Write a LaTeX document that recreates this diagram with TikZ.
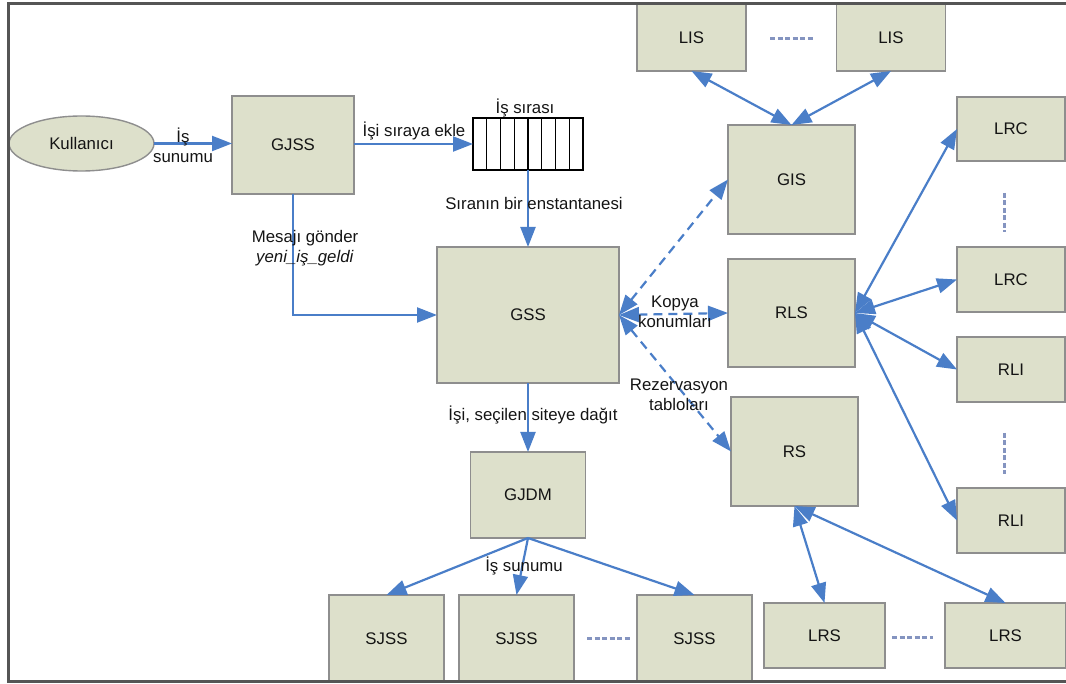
\documentclass[tikz,border=0pt]{standalone}
\usepackage{fontspec}
\setmainfont{Liberation Sans}
\usetikzlibrary{arrows.meta,shapes.geometric}
\definecolor{boxfill}{HTML}{DDE0CB}
\definecolor{boxline}{HTML}{8E8E8E}
\definecolor{linkblue}{HTML}{4A7EC8}
\definecolor{dotblue}{HTML}{8494C0}
\definecolor{framegray}{HTML}{555555}
\definecolor{ink}{HTML}{141414}
\tikzset{
  every node/.style={font=\fontsize{16.8}{20}\selectfont, text=ink},
  box/.style={draw=boxline, fill=boxfill, line width=1.4pt, inner sep=0pt, outer sep=0pt},
  tip/.tip={Triangle[length=20pt,width=15pt]},
  link/.style={draw=linkblue, line width=2.2pt, -tip},
  twoway/.style={draw=linkblue, line width=2.2pt, tip-tip},
  dlink/.style={twoway, dash pattern=on 9pt off 6pt},
  gap/.style={draw=dotblue, line width=3pt, dash pattern=on 5pt off 2.5pt},
  lbl/.style={inner sep=0pt, align=center},
}
\begin{document}
\begin{tikzpicture}[x=1pt,y=-1pt]
\useasboundingbox (0,0) rectangle (1066,684);

% left part: user, submission service, queue
\node[box, ellipse, minimum width=145pt, minimum height=55pt] (user) at (81.5,143.5) {Kullanıcı};
\node[box, minimum width=122pt, minimum height=98pt] (gjss) at (293,145) {GJSS};
\node[draw=black, fill=white, line width=1.4pt, inner sep=0pt, outer sep=0pt,
      minimum width=110pt, minimum height=52pt] (queue) at (528,144) {};
\foreach \i in {1,...,7}
  \draw[black, line width=1.4pt] ([xshift=\i*13.75pt]queue.north west) -- ([xshift=\i*13.75pt]queue.south west);
\node[lbl] (qlabel) at (525,108) {İş sırası};

% central scheduler and dispatcher
\node[box, minimum width=182pt, minimum height=136pt] (gss) at (528,315) {GSS};
\node[box, minimum width=115pt, minimum height=86pt] (gjdm) at (528,495) {GJDM};

% local submission services
\node[box, minimum width=115pt, minimum height=87pt] (sjss1) at (386.5,638.5) {SJSS};
\node[box, minimum width=115pt, minimum height=87pt] (sjss2) at (516.5,638.5) {SJSS};
\node[box, minimum width=115pt, minimum height=87pt] (sjss3) at (694.5,638.5) {SJSS};

% information, replica and reservation services
\node[box, minimum width=109pt, minimum height=67pt] (lis1) at (691.5,37.5) {LIS};
\node[box, minimum width=109pt, minimum height=67pt] (lis2) at (891,37.5) {LIS};
\node[box, minimum width=127pt, minimum height=109pt] (gis) at (791.5,179.5) {GIS};
\node[box, minimum width=127pt, minimum height=108pt] (rls) at (791.5,313) {RLS};
\node[box, minimum width=127pt, minimum height=109pt] (rs) at (794.5,451.5) {RS};

\node[box, minimum width=108pt, minimum height=64pt] (lrc1) at (1011,129) {LRC};
\node[box, minimum width=108pt, minimum height=65pt] (lrc2) at (1011,279.5) {LRC};
\node[box, minimum width=108pt, minimum height=65pt] (rli1) at (1011,369.5) {RLI};
\node[box, minimum width=108pt, minimum height=65pt] (rli2) at (1011,520.5) {RLI};

\node[box, minimum width=121pt, minimum height=65pt] (lrs1) at (824.5,635.5) {LRS};
\node[box, minimum width=121pt, minimum height=65pt] (lrs2) at (1005.5,635.5) {LRS};

% "and so on" marks between repeated boxes
\draw[gap] (770,39) -- (813,39);
\draw[gap] (587,638) -- (630,638);
\draw[gap] (892,637) -- (933,637);
\draw[gap] (1004,193) -- (1004,232);
\draw[gap] (1004,433) -- (1004,474);

% job flow
\draw[link] (user.east) -- (gjss.west |- user.east);
\draw[link] (gjss.east |- queue.west) -- (queue.west);
\draw[link] (queue.south) -- (gss.north);
\draw[link] (gjss.south) |- (gss.west);
\draw[link] (gss.south) -- (gjdm.north);
\draw[link] (gjdm.south) -- (sjss1.north);
\draw[link] (gjdm.south) -- (sjss2.north);
\draw[link] (gjdm.south) -- (sjss3.north);

% scheduler queries
\draw[dlink] (gss.east) -- (gis.west);
\draw[dlink] (gss.east) -- (rls.west);
\draw[dlink] (gss.east) -- (rs.west);

% service hierarchies
\draw[twoway] (lis1.south) -- (gis.north);
\draw[twoway] (lis2.south) -- (gis.north);
\draw[twoway] (rls.east) -- (lrc1.west);
\draw[twoway] (rls.east) -- (lrc2.west);
\draw[twoway] (rls.east) -- (rli1.west);
\draw[twoway] (rls.east) -- (rli2.west);
\draw[twoway] (rs.south) -- (lrs1.north);
\draw[twoway] (rs.south) -- (lrs2.north);

% connector labels
\node[lbl] (l1) at (183,145.5) {İş\\sunumu};
\node[lbl] (l2) at (414,131) {İşi sıraya ekle};
\node[lbl] (l3) at (534,203) {Sıranın bir enstantanesi};
\node[lbl] (l4) at (305,248) {Mesajı gönder\\\textit{yeni\_iş\_geldi}};
\node[lbl] (l5) at (533,415) {İşi, seçilen siteye dağıt};
\node[lbl] (l6) at (524,566) {İş sunumu};
\node[lbl] (l7) at (675,312) {Kopya\\konumları};
\node[lbl] (l8) at (679,394.5) {Rezervasyon\\tabloları};

% frame
\draw[framegray, line width=3pt] (1066,4) -- (8,4) -- (8,681) -- (1066,681);
\end{tikzpicture}
\end{document}
